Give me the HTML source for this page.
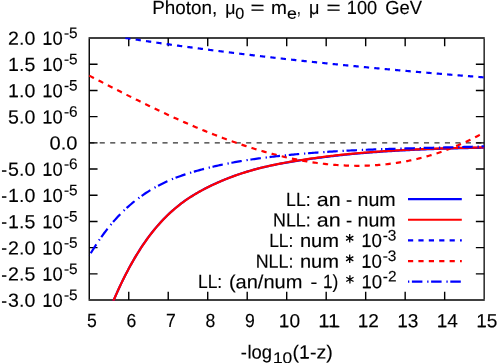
<!DOCTYPE html>
<html><head><meta charset="utf-8"><title>plot</title>
<style>html,body{margin:0;padding:0;background:#fff}body{width:498px;height:363px;overflow:hidden}</style></head>
<body>
<svg width="498" height="363" viewBox="0 0 498 363" style="display:block;will-change:transform" text-rendering="geometricPrecision" font-family='"Liberation Sans", sans-serif' font-size="19.0" fill="#000">
<rect width="498" height="363" fill="#fff"/>
<clipPath id="c"><rect x="88.65" y="37.43" width="396.09999999999997" height="263.23999999999995"/></clipPath>
<path d="M89.25,142.85H484.15" stroke="#303030" stroke-width="1.4" stroke-dasharray="5.1 5.36" fill="none"/>
<path d="M89.25,64.23h8.3 M484.15,64.23h-8.3 M128.74,300.07v-8.3 M128.74,38.03v8.3 M89.25,90.44h8.3 M484.15,90.44h-8.3 M168.23,300.07v-8.3 M168.23,38.03v8.3 M89.25,116.64h8.3 M484.15,116.64h-8.3 M207.72,300.07v-8.3 M207.72,38.03v8.3 M89.25,142.85h8.3 M484.15,142.85h-8.3 M247.21,300.07v-8.3 M247.21,38.03v8.3 M89.25,169.05h8.3 M484.15,169.05h-8.3 M286.70,300.07v-8.3 M286.70,38.03v8.3 M89.25,195.25h8.3 M484.15,195.25h-8.3 M326.19,300.07v-8.3 M326.19,38.03v8.3 M89.25,221.46h8.3 M484.15,221.46h-8.3 M365.68,300.07v-8.3 M365.68,38.03v8.3 M89.25,247.66h8.3 M484.15,247.66h-8.3 M405.17,300.07v-8.3 M405.17,38.03v8.3 M89.25,273.87h8.3 M484.15,273.87h-8.3 M444.66,300.07v-8.3 M444.66,38.03v8.3" stroke="#000" stroke-width="1.4" fill="none"/>
<g fill="none" stroke="#000"><path d="M88.55,38.03H484.78999999999996" stroke-width="1.4"/><path d="M484.15,38.730000000000004V299.295" stroke-width="1.28"/><path d="M88.55,300.07H484.78999999999996" stroke-width="1.55"/><path d="M89.25,38.730000000000004V299.295" stroke-width="1.4"/></g>
<g clip-path="url(#c)" fill="none" stroke-width="2.2" stroke-linejoin="round">
<path d="M112.30,303.51 L113.80,299.97 L115.30,296.50 L116.80,293.11 L118.30,289.79 L119.80,286.54 L121.30,283.37 L122.80,280.28 L124.30,277.25 L125.80,274.29 L127.30,271.40 L128.79,268.57 L130.29,265.81 L131.79,263.11 L133.29,260.48 L134.79,257.91 L136.28,255.40 L137.78,252.95 L139.28,250.55 L140.78,248.22 L142.28,245.94 L143.77,243.72 L145.27,241.56 L146.77,239.45 L148.27,237.39 L149.77,235.39 L151.26,233.43 L152.76,231.53 L154.26,229.67 L155.76,227.87 L157.26,226.11 L158.76,224.40 L160.26,222.74 L161.76,221.10 L163.26,219.51 L164.76,217.96 L166.26,216.46 L167.76,214.99 L169.26,213.56 L170.76,212.17 L172.26,210.82 L173.76,209.51 L175.26,208.23 L176.76,206.98 L178.26,205.77 L179.76,204.59 L181.26,203.44 L182.76,202.32 L184.26,201.23 L185.76,200.17 L187.26,199.14 L188.76,198.13 L190.26,197.15 L191.76,196.20 L193.26,195.26 L194.76,194.35 L196.26,193.46 L197.76,192.59 L199.26,191.74 L200.76,190.91 L202.26,190.10 L203.76,189.30 L205.26,188.52 L206.76,187.75 L208.26,187.00 L209.76,186.26 L211.26,185.53 L212.76,184.82 L214.26,184.12 L215.76,183.43 L217.26,182.75 L218.76,182.09 L220.26,181.43 L221.76,180.79 L223.26,180.17 L224.76,179.55 L226.26,178.94 L227.76,178.35 L229.26,177.77 L230.76,177.20 L232.26,176.64 L233.76,176.09 L235.26,175.55 L236.76,175.02 L238.26,174.50 L239.76,173.99 L241.26,173.49 L242.76,173.01 L244.26,172.53 L245.76,172.06 L247.26,171.60 L248.76,171.15 L250.26,170.71 L251.76,170.27 L253.26,169.85 L254.76,169.43 L256.26,169.03 L257.76,168.64 L259.26,168.26 L260.76,167.89 L262.26,167.52 L263.77,167.16 L265.27,166.81 L266.77,166.47 L268.27,166.13 L269.77,165.80 L271.27,165.48 L272.77,165.17 L274.27,164.86 L275.77,164.55 L277.27,164.26 L278.77,163.97 L280.27,163.68 L281.78,163.41 L283.28,163.13 L284.78,162.87 L286.28,162.60 L287.78,162.35 L289.28,162.10 L290.78,161.85 L292.28,161.61 L293.78,161.37 L295.28,161.14 L296.78,160.91 L298.28,160.68 L299.79,160.46 L301.29,160.24 L302.79,160.01 L304.29,159.79 L305.79,159.57 L307.29,159.36 L308.79,159.15 L310.29,158.94 L311.79,158.73 L313.29,158.53 L314.79,158.33 L316.30,158.13 L317.80,157.93 L319.30,157.74 L320.80,157.55 L322.30,157.36 L323.80,157.18 L325.30,156.99 L326.80,156.80 L328.30,156.62 L329.80,156.43 L331.30,156.25 L332.80,156.07 L334.30,155.89 L335.80,155.71 L337.30,155.54 L338.80,155.37 L340.30,155.20 L341.80,155.05 L343.30,154.89 L344.80,154.74 L346.30,154.59 L347.80,154.45 L349.30,154.30 L350.80,154.16 L352.30,154.02 L353.80,153.88 L355.30,153.75 L356.80,153.61 L358.30,153.48 L359.80,153.35 L361.30,153.22 L362.80,153.09 L364.30,152.97 L365.80,152.85 L367.30,152.73 L368.80,152.61 L370.30,152.49 L371.80,152.38 L373.30,152.26 L374.80,152.15 L376.30,152.04 L377.80,151.93 L379.30,151.83 L380.80,151.72 L382.30,151.62 L383.80,151.52 L385.30,151.42 L386.80,151.32 L388.30,151.23 L389.80,151.13 L391.30,151.04 L392.80,150.95 L394.30,150.86 L395.80,150.77 L397.30,150.69 L398.80,150.60 L400.30,150.52 L401.80,150.44 L403.30,150.36 L404.80,150.28 L406.30,150.20 L407.80,150.13 L409.30,150.05 L410.80,149.98 L412.30,149.91 L413.80,149.83 L415.30,149.77 L416.80,149.70 L418.30,149.63 L419.80,149.57 L421.30,149.50 L422.80,149.44 L424.30,149.38 L425.80,149.32 L427.30,149.26 L428.80,149.20 L430.30,149.14 L431.80,149.09 L433.30,149.03 L434.80,148.98 L436.30,148.93 L437.80,148.87 L439.30,148.82 L440.80,148.77 L442.30,148.73 L443.80,148.68 L445.30,148.63 L446.80,148.59 L448.30,148.54 L449.80,148.50 L451.30,148.46 L452.80,148.41 L454.30,148.37 L455.80,148.33 L457.30,148.29 L458.80,148.25 L460.30,148.22 L461.80,148.18 L463.30,148.14 L464.80,148.11 L466.30,148.07 L467.80,148.04 L469.30,148.00 L470.80,147.97 L472.30,147.94 L473.80,147.91 L475.30,147.88 L476.80,147.85 L478.30,147.82 L479.80,147.79 L481.30,147.76 L482.80,147.73 L484.15,147.70" stroke="#0000ff"/>
<path d="M112.30,303.51 L113.80,299.97 L115.30,296.50 L116.80,293.11 L118.30,289.79 L119.80,286.54 L121.30,283.37 L122.80,280.28 L124.30,277.25 L125.80,274.29 L127.30,271.40 L128.80,268.58 L130.30,265.82 L131.80,263.12 L133.30,260.49 L134.80,257.92 L136.30,255.42 L137.80,252.97 L139.30,250.58 L140.80,248.25 L142.30,245.97 L143.80,243.76 L145.30,241.59 L146.80,239.49 L148.30,237.43 L149.80,235.43 L151.30,233.48 L152.80,231.58 L154.30,229.72 L155.80,227.92 L157.30,226.16 L158.80,224.45 L160.30,222.79 L161.80,221.15 L163.30,219.56 L164.80,218.01 L166.30,216.51 L167.80,215.04 L169.30,213.61 L170.80,212.22 L172.30,210.87 L173.80,209.56 L175.30,208.28 L176.80,207.03 L178.30,205.82 L179.80,204.64 L181.30,203.49 L182.80,202.37 L184.30,201.28 L185.80,200.22 L187.30,199.19 L188.80,198.18 L190.30,197.20 L191.80,196.25 L193.30,195.31 L194.80,194.40 L196.30,193.51 L197.80,192.64 L199.30,191.79 L200.80,190.96 L202.30,190.15 L203.80,189.35 L205.30,188.57 L206.80,187.80 L208.30,187.05 L209.80,186.31 L211.30,185.58 L212.80,184.87 L214.30,184.17 L215.80,183.48 L217.30,182.80 L218.80,182.14 L220.30,181.48 L221.80,180.84 L223.30,180.22 L224.80,179.60 L226.30,178.99 L227.80,178.40 L229.30,177.82 L230.80,177.25 L232.30,176.69 L233.80,176.14 L235.30,175.60 L236.80,175.07 L238.30,174.55 L239.80,174.04 L241.30,173.54 L242.80,173.06 L244.30,172.58 L245.80,172.11 L247.30,171.65 L248.80,171.20 L250.30,170.76 L251.80,170.32 L253.30,169.90 L254.80,169.48 L256.30,169.08 L257.80,168.68 L259.30,168.29 L260.80,167.91 L262.30,167.53 L263.80,167.16 L265.30,166.80 L266.80,166.45 L268.30,166.11 L269.80,165.77 L271.30,165.44 L272.80,165.11 L274.30,164.80 L275.80,164.49 L277.30,164.18 L278.80,163.88 L280.30,163.59 L281.80,163.30 L283.30,163.02 L284.80,162.75 L286.30,162.47 L287.80,162.21 L289.30,161.95 L290.80,161.69 L292.30,161.44 L293.80,161.20 L295.30,160.96 L296.80,160.72 L298.30,160.49 L299.80,160.26 L301.30,160.02 L302.80,159.79 L304.30,159.56 L305.80,159.33 L307.30,159.11 L308.80,158.89 L310.30,158.67 L311.80,158.46 L313.30,158.25 L314.80,158.04 L316.30,157.83 L317.80,157.63 L319.30,157.42 L320.80,157.23 L322.30,157.03 L323.80,156.83 L325.30,156.64 L326.80,156.45 L328.30,156.27 L329.80,156.08 L331.30,155.90 L332.80,155.72 L334.30,155.54 L335.80,155.36 L337.30,155.19 L338.80,155.02 L340.30,154.85 L341.80,154.70 L343.30,154.54 L344.80,154.39 L346.30,154.24 L347.80,154.10 L349.30,153.95 L350.80,153.81 L352.30,153.67 L353.80,153.53 L355.30,153.40 L356.80,153.26 L358.30,153.13 L359.80,153.00 L361.30,152.87 L362.80,152.74 L364.30,152.62 L365.80,152.50 L367.30,152.38 L368.80,152.26 L370.30,152.14 L371.80,152.03 L373.30,151.91 L374.80,151.80 L376.30,151.69 L377.80,151.58 L379.30,151.48 L380.80,151.37 L382.30,151.27 L383.80,151.17 L385.30,151.07 L386.80,150.97 L388.30,150.88 L389.80,150.78 L391.30,150.69 L392.80,150.60 L394.30,150.51 L395.80,150.42 L397.30,150.34 L398.80,150.25 L400.30,150.17 L401.80,150.09 L403.30,150.01 L404.80,149.93 L406.30,149.85 L407.80,149.78 L409.30,149.70 L410.80,149.63 L412.30,149.56 L413.80,149.48 L415.30,149.42 L416.80,149.35 L418.30,149.28 L419.80,149.22 L421.30,149.15 L422.80,149.09 L424.30,149.03 L425.80,148.97 L427.30,148.91 L428.80,148.85 L430.30,148.79 L431.80,148.74 L433.30,148.68 L434.80,148.63 L436.30,148.58 L437.80,148.52 L439.30,148.47 L440.80,148.42 L442.30,148.38 L443.80,148.33 L445.30,148.28 L446.80,148.24 L448.30,148.19 L449.80,148.15 L451.30,148.11 L452.80,148.06 L454.30,148.02 L455.80,147.98 L457.30,147.94 L458.80,147.90 L460.30,147.87 L461.80,147.83 L463.30,147.79 L464.80,147.76 L466.30,147.72 L467.80,147.69 L469.30,147.65 L470.80,147.62 L472.30,147.59 L473.80,147.56 L475.30,147.53 L476.80,147.50 L478.30,147.47 L479.80,147.44 L481.30,147.41 L482.80,147.38 L484.15,147.35" stroke="#ff0000"/>
<path d="M125.30,37.95 L126.30,38.11 L127.30,38.26 L128.30,38.41 L129.30,38.57 L130.30,38.72 L131.30,38.87 L132.30,39.02 L133.30,39.18 L134.30,39.33 L135.30,39.48 L136.30,39.63 L137.30,39.78 L138.30,39.93 L139.30,40.08 L140.30,40.23 L141.30,40.38 L142.30,40.53 L143.30,40.68 L144.30,40.82 L145.30,40.97 L146.30,41.12 L147.30,41.27 L148.30,41.41 L149.30,41.56 L150.30,41.71 L151.30,41.85 L152.30,42.00 L153.30,42.15 L154.30,42.29 L155.30,42.44 L156.30,42.58 L157.30,42.72 L158.30,42.87 L159.30,43.01 L160.30,43.16 L161.30,43.30 L162.30,43.44 L163.30,43.58 L164.30,43.73 L165.30,43.87 L166.30,44.01 L167.30,44.15 L168.30,44.29 L169.30,44.43 L170.30,44.58 L171.30,44.72 L172.30,44.86 L173.30,45.00 L174.30,45.13 L175.30,45.27 L176.30,45.41 L177.30,45.55 L178.30,45.69 L179.30,45.83 L180.30,45.97 L181.30,46.10 L182.30,46.24 L183.30,46.38 L184.30,46.51 L185.30,46.65 L186.30,46.79 L187.30,46.92 L188.30,47.06 L189.30,47.19 L190.30,47.33 L191.30,47.46 L192.30,47.60 L193.30,47.73 L194.30,47.86 L195.30,48.00 L196.30,48.13 L197.30,48.26 L198.30,48.40 L199.30,48.53 L200.30,48.66 L201.30,48.79 L202.30,48.93 L203.30,49.06 L204.30,49.19 L205.30,49.32 L206.30,49.45 L207.30,49.58 L208.30,49.71 L209.30,49.84 L210.30,49.97 L211.30,50.10 L212.30,50.23 L213.30,50.36 L214.30,50.48 L215.30,50.61 L216.30,50.74 L217.30,50.87 L218.30,51.00 L219.30,51.12 L220.30,51.25 L221.30,51.38 L222.30,51.50 L223.30,51.63 L224.30,51.75 L225.30,51.88 L226.30,52.01 L227.30,52.13 L228.30,52.26 L229.30,52.38 L230.30,52.50 L231.30,52.63 L232.30,52.75 L233.30,52.88 L234.30,53.00 L235.30,53.12 L236.30,53.24 L237.30,53.37 L238.30,53.49 L239.30,53.61 L240.30,53.73 L241.30,53.85 L242.30,53.98 L243.30,54.10 L244.30,54.22 L245.30,54.34 L246.30,54.46 L247.30,54.58 L248.30,54.70 L249.30,54.82 L250.30,54.94 L251.30,55.06 L252.30,55.18 L253.30,55.29 L254.30,55.41 L255.30,55.53 L256.30,55.65 L257.30,55.77 L258.30,55.88 L259.30,56.00 L260.30,56.12 L261.30,56.23 L262.30,56.35 L263.30,56.47 L264.30,56.58 L265.30,56.70 L266.30,56.81 L267.30,56.93 L268.30,57.04 L269.30,57.16 L270.30,57.27 L271.30,57.39 L272.30,57.50 L273.30,57.62 L274.30,57.73 L275.30,57.84 L276.30,57.96 L277.30,58.07 L278.30,58.18 L279.30,58.29 L280.30,58.41 L281.30,58.52 L282.30,58.63 L283.30,58.74 L284.30,58.85 L285.30,58.97 L286.30,59.08 L287.30,59.19 L288.30,59.30 L289.30,59.41 L290.30,59.52 L291.30,59.63 L292.30,59.74 L293.30,59.85 L294.30,59.96 L295.30,60.06 L296.30,60.17 L297.30,60.28 L298.30,60.39 L299.30,60.50 L300.30,60.61 L301.30,60.71 L302.30,60.82 L303.30,60.93 L304.30,61.04 L305.30,61.14 L306.30,61.25 L307.30,61.36 L308.30,61.46 L309.30,61.57 L310.30,61.67 L311.30,61.78 L312.30,61.88 L313.30,61.99 L314.30,62.09 L315.30,62.20 L316.30,62.30 L317.30,62.41 L318.30,62.51 L319.30,62.62 L320.30,62.72 L321.30,62.82 L322.30,62.93 L323.30,63.03 L324.30,63.13 L325.30,63.23 L326.30,63.34 L327.30,63.44 L328.30,63.54 L329.30,63.64 L330.30,63.75 L331.30,63.85 L332.30,63.95 L333.30,64.05 L334.30,64.15 L335.30,64.25 L336.30,64.35 L337.30,64.45 L338.30,64.55 L339.30,64.65 L340.30,64.75 L341.30,64.85 L342.30,64.95 L343.30,65.05 L344.30,65.15 L345.30,65.25 L346.30,65.35 L347.30,65.44 L348.30,65.54 L349.30,65.64 L350.30,65.74 L351.30,65.84 L352.30,65.93 L353.30,66.03 L354.30,66.13 L355.30,66.22 L356.30,66.32 L357.30,66.42 L358.30,66.51 L359.30,66.61 L360.30,66.71 L361.30,66.80 L362.30,66.90 L363.30,66.99 L364.30,67.09 L365.30,67.18 L366.30,67.28 L367.30,67.37 L368.30,67.47 L369.30,67.56 L370.30,67.66 L371.30,67.75 L372.30,67.84 L373.30,67.94 L374.30,68.03 L375.30,68.12 L376.30,68.22 L377.30,68.31 L378.30,68.40 L379.30,68.50 L380.30,68.59 L381.30,68.68 L382.30,68.77 L383.30,68.87 L384.30,68.96 L385.30,69.05 L386.30,69.14 L387.30,69.23 L388.30,69.32 L389.30,69.41 L390.30,69.50 L391.30,69.60 L392.30,69.69 L393.30,69.78 L394.30,69.87 L395.30,69.96 L396.30,70.05 L397.30,70.14 L398.30,70.23 L399.30,70.31 L400.30,70.40 L401.30,70.49 L402.30,70.58 L403.30,70.67 L404.30,70.76 L405.30,70.85 L406.30,70.94 L407.30,71.02 L408.30,71.11 L409.30,71.20 L410.30,71.29 L411.30,71.37 L412.30,71.46 L413.30,71.55 L414.30,71.64 L415.30,71.72 L416.30,71.81 L417.30,71.90 L418.30,71.98 L419.30,72.07 L420.30,72.16 L421.30,72.24 L422.30,72.33 L423.30,72.41 L424.30,72.50 L425.30,72.58 L426.30,72.67 L427.30,72.75 L428.30,72.84 L429.30,72.92 L430.30,73.01 L431.30,73.09 L432.30,73.18 L433.30,73.26 L434.30,73.35 L435.30,73.43 L436.30,73.51 L437.30,73.60 L438.30,73.68 L439.30,73.76 L440.30,73.85 L441.30,73.93 L442.30,74.01 L443.30,74.10 L444.30,74.18 L445.30,74.26 L446.30,74.34 L447.30,74.43 L448.30,74.51 L449.30,74.59 L450.30,74.67 L451.30,74.76 L452.30,74.84 L453.30,74.92 L454.30,75.00 L455.30,75.08 L456.30,75.16 L457.30,75.24 L458.30,75.32 L459.30,75.41 L460.30,75.49 L461.30,75.57 L462.30,75.65 L463.30,75.73 L464.30,75.81 L465.30,75.89 L466.30,75.97 L467.30,76.05 L468.30,76.13 L469.30,76.21 L470.30,76.29 L471.30,76.37 L472.30,76.45 L473.30,76.52 L474.30,76.60 L475.30,76.68 L476.30,76.76 L477.30,76.84 L478.30,76.92 L479.30,77.00 L480.30,77.07 L481.30,77.15 L482.30,77.23 L483.30,77.31 L484.15,77.38" stroke="#0000ff" stroke-dasharray="5.3 5.15"/>
<path d="M89.25,75.61 L90.75,76.39 L92.25,77.17 L93.75,77.95 L95.25,78.73 L96.75,79.51 L98.25,80.29 L99.75,81.06 L101.25,81.84 L102.75,82.62 L104.25,83.39 L105.75,84.16 L107.25,84.94 L108.75,85.71 L110.25,86.48 L111.75,87.25 L113.25,88.02 L114.75,88.78 L116.25,89.55 L117.75,90.31 L119.25,91.07 L120.75,91.84 L122.25,92.60 L123.75,93.35 L125.25,94.11 L126.75,94.87 L128.25,95.62 L129.75,96.37 L131.25,97.12 L132.75,97.87 L134.25,98.62 L135.75,99.36 L137.25,100.10 L138.75,100.84 L140.25,101.58 L141.75,102.32 L143.25,103.05 L144.75,103.79 L146.25,104.52 L147.75,105.25 L149.25,105.97 L150.75,106.70 L152.25,107.42 L153.75,108.14 L155.25,108.85 L156.75,109.57 L158.25,110.28 L159.75,110.99 L161.25,111.70 L162.75,112.40 L164.25,113.10 L165.75,113.80 L167.25,114.50 L168.75,115.19 L170.25,115.88 L171.75,116.57 L173.25,117.25 L174.75,117.93 L176.25,118.61 L177.75,119.29 L179.25,119.96 L180.75,120.63 L182.25,121.30 L183.75,121.96 L185.25,122.62 L186.75,123.28 L188.25,123.93 L189.75,124.58 L191.25,125.23 L192.75,125.87 L194.25,126.51 L195.75,127.15 L197.25,127.78 L198.75,128.41 L200.25,129.03 L201.75,129.65 L203.25,130.27 L204.75,130.88 L206.25,131.49 L207.75,132.10 L209.25,132.70 L210.75,133.30 L212.25,133.89 L213.75,134.48 L215.25,135.07 L216.75,135.65 L218.25,136.23 L219.75,136.80 L221.25,137.37 L222.75,137.94 L224.25,138.50 L225.75,139.05 L227.25,139.61 L228.75,140.15 L230.25,140.70 L231.75,141.23 L233.25,141.77 L234.75,142.30 L236.25,142.82 L237.75,143.34 L239.25,143.85 L240.75,144.36 L242.25,144.87 L243.75,145.37 L245.25,145.86 L246.75,146.35 L248.25,146.84 L249.75,147.32 L251.25,147.79 L252.75,148.26 L254.25,148.73 L255.75,149.19 L257.25,149.64 L258.75,150.09 L260.25,150.53 L261.75,150.97 L263.25,151.40 L264.75,151.83 L266.25,152.25 L267.75,152.67 L269.25,153.08 L270.75,153.48 L272.25,153.88 L273.75,154.27 L275.25,154.66 L276.75,155.04 L278.25,155.42 L279.75,155.79 L281.25,156.15 L282.75,156.51 L284.25,156.86 L285.75,157.21 L287.25,157.55 L288.75,157.88 L290.25,158.21 L291.75,158.53 L293.25,158.84 L294.75,159.15 L296.25,159.45 L297.75,159.74 L299.25,160.03 L300.75,160.32 L302.25,160.59 L303.75,160.86 L305.25,161.12 L306.75,161.38 L308.25,161.63 L309.75,161.87 L311.25,162.10 L312.75,162.33 L314.25,162.55 L315.75,162.77 L317.25,162.98 L318.75,163.18 L320.25,163.37 L321.75,163.56 L323.25,163.74 L324.75,163.91 L326.25,164.07 L327.75,164.23 L329.25,164.38 L330.75,164.52 L332.25,164.66 L333.75,164.79 L335.25,164.91 L336.75,165.02 L338.25,165.13 L339.75,165.22 L341.25,165.32 L342.75,165.40 L344.25,165.47 L345.75,165.54 L347.25,165.60 L348.75,165.65 L350.25,165.69 L351.75,165.73 L353.25,165.75 L354.75,165.77 L356.25,165.79 L357.75,165.79 L359.25,165.78 L360.75,165.77 L362.25,165.75 L363.75,165.72 L365.25,165.68 L366.75,165.63 L368.25,165.58 L369.75,165.51 L371.25,165.44 L372.75,165.36 L374.25,165.27 L375.75,165.17 L377.25,165.07 L378.75,164.95 L380.25,164.83 L381.75,164.70 L383.25,164.55 L384.75,164.40 L386.25,164.24 L387.75,164.07 L389.25,163.90 L390.75,163.71 L392.25,163.51 L393.75,163.31 L395.25,163.10 L396.75,162.87 L398.25,162.64 L399.75,162.40 L401.25,162.15 L402.75,161.89 L404.25,161.62 L405.75,161.34 L407.25,161.05 L408.75,160.75 L410.25,160.44 L411.75,160.12 L413.25,159.79 L414.75,159.46 L416.25,159.11 L417.75,158.75 L419.25,158.38 L420.75,158.01 L422.25,157.62 L423.75,157.22 L425.25,156.82 L426.75,156.40 L428.25,155.97 L429.75,155.54 L431.25,155.09 L432.75,154.63 L434.25,154.16 L435.75,153.68 L437.25,153.19 L438.75,152.70 L440.25,152.19 L441.75,151.67 L443.25,151.13 L444.75,150.59 L446.25,150.04 L447.75,149.48 L449.25,148.91 L450.75,148.32 L452.25,147.73 L453.75,147.12 L455.25,146.50 L456.75,145.88 L458.25,145.24 L459.75,144.59 L461.25,143.93 L462.75,143.25 L464.25,142.57 L465.75,141.88 L467.25,141.17 L468.75,140.46 L470.25,139.73 L471.75,138.99 L473.25,138.24 L474.75,137.48 L476.25,136.70 L477.75,135.92 L479.25,135.12 L480.75,134.31 L482.25,133.49 L483.75,132.66 L484.15,132.44" stroke="#ff0000" stroke-dasharray="5.3 5.16"/>
<path d="M89.25,255.70 L90.75,253.19 L92.25,250.73 L93.75,248.33 L95.25,245.98 L96.75,243.69 L98.25,241.45 L99.75,239.27 L101.25,237.14 L102.75,235.05 L104.25,233.02 L105.75,231.04 L107.25,229.10 L108.75,227.21 L110.25,225.37 L111.75,223.58 L113.25,221.82 L114.75,220.12 L116.25,218.45 L117.75,216.83 L119.25,215.25 L120.75,213.71 L122.25,212.20 L123.75,210.74 L125.25,209.31 L126.75,207.92 L128.25,206.57 L129.75,205.25 L131.25,203.96 L132.75,202.71 L134.25,201.49 L135.75,200.30 L137.25,199.14 L138.75,198.00 L140.25,196.90 L141.75,195.83 L143.25,194.78 L144.75,193.76 L146.25,192.77 L147.75,191.80 L149.25,190.86 L150.75,189.94 L152.25,189.04 L153.75,188.17 L155.25,187.33 L156.75,186.50 L158.25,185.70 L159.75,184.92 L161.25,184.16 L162.75,183.42 L164.25,182.70 L165.75,182.00 L167.25,181.31 L168.75,180.65 L170.25,180.00 L171.75,179.37 L173.25,178.76 L174.75,178.16 L176.25,177.58 L177.75,177.01 L179.25,176.46 L180.75,175.92 L182.25,175.39 L183.75,174.88 L185.25,174.38 L186.75,173.89 L188.25,173.41 L189.75,172.94 L191.25,172.48 L192.75,172.04 L194.25,171.60 L195.75,171.16 L197.25,170.74 L198.75,170.32 L200.25,169.91 L201.75,169.51 L203.25,169.11 L204.75,168.72 L206.25,168.34 L207.75,167.96 L209.25,167.59 L210.75,167.23 L212.25,166.87 L213.75,166.52 L215.25,166.17 L216.75,165.83 L218.25,165.50 L219.75,165.17 L221.25,164.85 L222.75,164.53 L224.25,164.22 L225.75,163.91 L227.25,163.61 L228.75,163.32 L230.25,163.03 L231.75,162.75 L233.25,162.47 L234.75,162.20 L236.25,161.93 L237.75,161.66 L239.25,161.41 L240.75,161.15 L242.25,160.90 L243.75,160.66 L245.25,160.42 L246.75,160.18 L248.25,159.95 L249.75,159.72 L251.25,159.50 L252.75,159.28 L254.25,159.07 L255.75,158.86 L257.25,158.65 L258.75,158.44 L260.25,158.24 L261.75,158.05 L263.25,157.85 L264.75,157.66 L266.25,157.48 L267.75,157.29 L269.25,157.11 L270.75,156.93 L272.25,156.76 L273.75,156.58 L275.25,156.41 L276.75,156.24 L278.25,156.08 L279.75,155.92 L281.25,155.76 L282.75,155.60 L284.25,155.44 L285.75,155.29 L287.25,155.13 L288.75,154.99 L290.25,154.84 L291.75,154.69 L293.25,154.55 L294.75,154.41 L296.25,154.27 L297.75,154.14 L299.25,154.00 L300.75,153.87 L302.25,153.74 L303.75,153.61 L305.25,153.48 L306.75,153.36 L308.25,153.24 L309.75,153.12 L311.25,153.00 L312.75,152.88 L314.25,152.77 L315.75,152.66 L317.25,152.55 L318.75,152.44 L320.25,152.33 L321.75,152.22 L323.25,152.12 L324.75,152.02 L326.25,151.92 L327.75,151.82 L329.25,151.72 L330.75,151.63 L332.25,151.53 L333.75,151.44 L335.25,151.35 L336.75,151.26 L338.25,151.17 L339.75,151.09 L341.25,151.00 L342.75,150.92 L344.25,150.84 L345.75,150.76 L347.25,150.68 L348.75,150.60 L350.25,150.52 L351.75,150.45 L353.25,150.38 L354.75,150.30 L356.25,150.23 L357.75,150.16 L359.25,150.09 L360.75,150.03 L362.25,149.96 L363.75,149.90 L365.25,149.83 L366.75,149.77 L368.25,149.71 L369.75,149.65 L371.25,149.59 L372.75,149.53 L374.25,149.47 L375.75,149.41 L377.25,149.36 L378.75,149.30 L380.25,149.25 L381.75,149.19 L383.25,149.14 L384.75,149.09 L386.25,149.04 L387.75,148.99 L389.25,148.94 L390.75,148.89 L392.25,148.84 L393.75,148.80 L395.25,148.75 L396.75,148.70 L398.25,148.66 L399.75,148.61 L401.25,148.57 L402.75,148.53 L404.25,148.48 L405.75,148.44 L407.25,148.40 L408.75,148.36 L410.25,148.32 L411.75,148.28 L413.25,148.24 L414.75,148.20 L416.25,148.16 L417.75,148.12 L419.25,148.08 L420.75,148.04 L422.25,148.00 L423.75,147.97 L425.25,147.93 L426.75,147.89 L428.25,147.85 L429.75,147.82 L431.25,147.78 L432.75,147.74 L434.25,147.71 L435.75,147.67 L437.25,147.63 L438.75,147.60 L440.25,147.56 L441.75,147.52 L443.25,147.49 L444.75,147.45 L446.25,147.41 L447.75,147.38 L449.25,147.34 L450.75,147.30 L452.25,147.26 L453.75,147.23 L455.25,147.19 L456.75,147.15 L458.25,147.11 L459.75,147.07 L461.25,147.04 L462.75,147.00 L464.25,146.96 L465.75,146.92 L467.25,146.88 L468.75,146.84 L470.25,146.80 L471.75,146.75 L473.25,146.71 L474.75,146.67 L476.25,146.63 L477.75,146.58 L479.25,146.54 L480.75,146.49 L482.25,146.45 L483.75,146.40 L484.15,146.39" stroke="#0000ff" stroke-dasharray="10.5 4.8 1.3 2.7" stroke-dashoffset="16.45"/>
</g>
<text x="152.20" y="13.90" transform="rotate(0.03 152.20 13.90)" font-size="19.0" stroke="#000" stroke-width="0.14" textLength="65.00" lengthAdjust="spacingAndGlyphs">Photon,</text>
<text x="225.30" y="13.90" transform="rotate(0.03 225.30 13.90)" font-size="19.0" stroke="#000" stroke-width="0.14" textLength="10.20" lengthAdjust="spacingAndGlyphs">μ</text>
<text x="235.30" y="18.80" transform="rotate(0.03 235.30 18.80)" font-size="15.8" stroke="#000" stroke-width="0.14" textLength="9.00" lengthAdjust="spacingAndGlyphs">0</text>
<text x="250.60" y="13.90" transform="rotate(0.03 250.60 13.90)" font-size="19.0" stroke="#000" stroke-width="0.14" textLength="14.10" lengthAdjust="spacingAndGlyphs">=</text>
<text x="271.00" y="13.90" transform="rotate(0.03 271.00 13.90)" font-size="19.0" stroke="#000" stroke-width="0.14" textLength="15.90" lengthAdjust="spacingAndGlyphs">m</text>
<text x="287.10" y="18.80" transform="rotate(0.03 287.10 18.80)" font-size="15.8" stroke="#000" stroke-width="0.14" textLength="9.90" lengthAdjust="spacingAndGlyphs">e</text>
<text x="297.00" y="13.90" transform="rotate(0.03 297.00 13.90)" font-size="19.0" stroke="#000" stroke-width="0.14" textLength="3.70" lengthAdjust="spacingAndGlyphs">,</text>
<text x="308.90" y="13.90" transform="rotate(0.03 308.90 13.90)" font-size="19.0" stroke="#000" stroke-width="0.14" textLength="10.40" lengthAdjust="spacingAndGlyphs">μ</text>
<text x="326.50" y="13.90" transform="rotate(0.03 326.50 13.90)" font-size="19.0" stroke="#000" stroke-width="0.14" textLength="14.20" lengthAdjust="spacingAndGlyphs">=</text>
<text x="346.80" y="13.90" transform="rotate(0.03 346.80 13.90)" font-size="19.0" stroke="#000" stroke-width="0.14" textLength="30.30" lengthAdjust="spacingAndGlyphs">100</text><rect x="348.62" y="12.55" width="6.81" height="1.35" fill="#000"/>
<text x="385.30" y="13.90" transform="rotate(0.03 385.30 13.90)" font-size="19.0" stroke="#000" stroke-width="0.14" textLength="36.80" lengthAdjust="spacingAndGlyphs">GeV</text>
<text x="8.10" y="44.78" transform="rotate(0.03 8.10 44.78)" font-size="19.0" stroke="#000" stroke-width="0.14" textLength="27.20" lengthAdjust="spacingAndGlyphs">2.0</text>
<text x="42.30" y="44.78" transform="rotate(0.03 42.30 44.78)" font-size="19.0" stroke="#000" stroke-width="0.14" textLength="20.50" lengthAdjust="spacingAndGlyphs">10</text><rect x="44.14" y="43.43" width="6.91" height="1.35" fill="#000"/>
<text x="63.90" y="38.08" transform="rotate(0.03 63.90 38.08)" font-size="15.2" stroke="#000" stroke-width="0.14" textLength="13.70" lengthAdjust="spacingAndGlyphs">-5</text>
<text x="8.10" y="70.98" transform="rotate(0.03 8.10 70.98)" font-size="19.0" stroke="#000" stroke-width="0.14" textLength="27.20" lengthAdjust="spacingAndGlyphs">1.5</text><rect x="10.06" y="69.63" width="7.34" height="1.35" fill="#000"/>
<text x="42.30" y="70.98" transform="rotate(0.03 42.30 70.98)" font-size="19.0" stroke="#000" stroke-width="0.14" textLength="20.50" lengthAdjust="spacingAndGlyphs">10</text><rect x="44.14" y="69.63" width="6.91" height="1.35" fill="#000"/>
<text x="63.90" y="64.28" transform="rotate(0.03 63.90 64.28)" font-size="15.2" stroke="#000" stroke-width="0.14" textLength="13.70" lengthAdjust="spacingAndGlyphs">-5</text>
<text x="8.10" y="97.19" transform="rotate(0.03 8.10 97.19)" font-size="19.0" stroke="#000" stroke-width="0.14" textLength="27.20" lengthAdjust="spacingAndGlyphs">1.0</text><rect x="10.06" y="95.84" width="7.34" height="1.35" fill="#000"/>
<text x="42.30" y="97.19" transform="rotate(0.03 42.30 97.19)" font-size="19.0" stroke="#000" stroke-width="0.14" textLength="20.50" lengthAdjust="spacingAndGlyphs">10</text><rect x="44.14" y="95.84" width="6.91" height="1.35" fill="#000"/>
<text x="63.90" y="90.49" transform="rotate(0.03 63.90 90.49)" font-size="15.2" stroke="#000" stroke-width="0.14" textLength="13.70" lengthAdjust="spacingAndGlyphs">-5</text>
<text x="8.10" y="123.39" transform="rotate(0.03 8.10 123.39)" font-size="19.0" stroke="#000" stroke-width="0.14" textLength="27.20" lengthAdjust="spacingAndGlyphs">5.0</text>
<text x="42.30" y="123.39" transform="rotate(0.03 42.30 123.39)" font-size="19.0" stroke="#000" stroke-width="0.14" textLength="20.50" lengthAdjust="spacingAndGlyphs">10</text><rect x="44.14" y="122.04" width="6.91" height="1.35" fill="#000"/>
<text x="63.90" y="116.69" transform="rotate(0.03 63.90 116.69)" font-size="15.2" stroke="#000" stroke-width="0.14" textLength="13.70" lengthAdjust="spacingAndGlyphs">-6</text>
<text x="49.50" y="149.60" transform="rotate(0.03 49.50 149.60)" font-size="19.0" stroke="#000" stroke-width="0.14" textLength="27.90" lengthAdjust="spacingAndGlyphs">0.0</text>
<text x="1.30" y="175.80" transform="rotate(0.03 1.30 175.80)" font-size="19.0" stroke="#000" stroke-width="0.14" textLength="5.80" lengthAdjust="spacingAndGlyphs">-</text>
<text x="8.10" y="175.80" transform="rotate(0.03 8.10 175.80)" font-size="19.0" stroke="#000" stroke-width="0.14" textLength="27.20" lengthAdjust="spacingAndGlyphs">5.0</text>
<text x="42.30" y="175.80" transform="rotate(0.03 42.30 175.80)" font-size="19.0" stroke="#000" stroke-width="0.14" textLength="20.50" lengthAdjust="spacingAndGlyphs">10</text><rect x="44.14" y="174.45" width="6.91" height="1.35" fill="#000"/>
<text x="63.90" y="169.10" transform="rotate(0.03 63.90 169.10)" font-size="15.2" stroke="#000" stroke-width="0.14" textLength="13.70" lengthAdjust="spacingAndGlyphs">-6</text>
<text x="1.30" y="202.00" transform="rotate(0.03 1.30 202.00)" font-size="19.0" stroke="#000" stroke-width="0.14" textLength="5.80" lengthAdjust="spacingAndGlyphs">-</text>
<text x="8.10" y="202.00" transform="rotate(0.03 8.10 202.00)" font-size="19.0" stroke="#000" stroke-width="0.14" textLength="27.20" lengthAdjust="spacingAndGlyphs">1.0</text><rect x="10.06" y="200.65" width="7.34" height="1.35" fill="#000"/>
<text x="42.30" y="202.00" transform="rotate(0.03 42.30 202.00)" font-size="19.0" stroke="#000" stroke-width="0.14" textLength="20.50" lengthAdjust="spacingAndGlyphs">10</text><rect x="44.14" y="200.65" width="6.91" height="1.35" fill="#000"/>
<text x="63.90" y="195.30" transform="rotate(0.03 63.90 195.30)" font-size="15.2" stroke="#000" stroke-width="0.14" textLength="13.70" lengthAdjust="spacingAndGlyphs">-5</text>
<text x="1.30" y="228.21" transform="rotate(0.03 1.30 228.21)" font-size="19.0" stroke="#000" stroke-width="0.14" textLength="5.80" lengthAdjust="spacingAndGlyphs">-</text>
<text x="8.10" y="228.21" transform="rotate(0.03 8.10 228.21)" font-size="19.0" stroke="#000" stroke-width="0.14" textLength="27.20" lengthAdjust="spacingAndGlyphs">1.5</text><rect x="10.06" y="226.86" width="7.34" height="1.35" fill="#000"/>
<text x="42.30" y="228.21" transform="rotate(0.03 42.30 228.21)" font-size="19.0" stroke="#000" stroke-width="0.14" textLength="20.50" lengthAdjust="spacingAndGlyphs">10</text><rect x="44.14" y="226.86" width="6.91" height="1.35" fill="#000"/>
<text x="63.90" y="221.51" transform="rotate(0.03 63.90 221.51)" font-size="15.2" stroke="#000" stroke-width="0.14" textLength="13.70" lengthAdjust="spacingAndGlyphs">-5</text>
<text x="1.30" y="254.41" transform="rotate(0.03 1.30 254.41)" font-size="19.0" stroke="#000" stroke-width="0.14" textLength="5.80" lengthAdjust="spacingAndGlyphs">-</text>
<text x="8.10" y="254.41" transform="rotate(0.03 8.10 254.41)" font-size="19.0" stroke="#000" stroke-width="0.14" textLength="27.20" lengthAdjust="spacingAndGlyphs">2.0</text>
<text x="42.30" y="254.41" transform="rotate(0.03 42.30 254.41)" font-size="19.0" stroke="#000" stroke-width="0.14" textLength="20.50" lengthAdjust="spacingAndGlyphs">10</text><rect x="44.14" y="253.06" width="6.91" height="1.35" fill="#000"/>
<text x="63.90" y="247.71" transform="rotate(0.03 63.90 247.71)" font-size="15.2" stroke="#000" stroke-width="0.14" textLength="13.70" lengthAdjust="spacingAndGlyphs">-5</text>
<text x="1.30" y="280.62" transform="rotate(0.03 1.30 280.62)" font-size="19.0" stroke="#000" stroke-width="0.14" textLength="5.80" lengthAdjust="spacingAndGlyphs">-</text>
<text x="8.10" y="280.62" transform="rotate(0.03 8.10 280.62)" font-size="19.0" stroke="#000" stroke-width="0.14" textLength="27.20" lengthAdjust="spacingAndGlyphs">2.5</text>
<text x="42.30" y="280.62" transform="rotate(0.03 42.30 280.62)" font-size="19.0" stroke="#000" stroke-width="0.14" textLength="20.50" lengthAdjust="spacingAndGlyphs">10</text><rect x="44.14" y="279.27" width="6.91" height="1.35" fill="#000"/>
<text x="63.90" y="273.92" transform="rotate(0.03 63.90 273.92)" font-size="15.2" stroke="#000" stroke-width="0.14" textLength="13.70" lengthAdjust="spacingAndGlyphs">-5</text>
<text x="1.30" y="306.82" transform="rotate(0.03 1.30 306.82)" font-size="19.0" stroke="#000" stroke-width="0.14" textLength="5.80" lengthAdjust="spacingAndGlyphs">-</text>
<text x="8.10" y="306.82" transform="rotate(0.03 8.10 306.82)" font-size="19.0" stroke="#000" stroke-width="0.14" textLength="27.20" lengthAdjust="spacingAndGlyphs">3.0</text>
<text x="42.30" y="306.82" transform="rotate(0.03 42.30 306.82)" font-size="19.0" stroke="#000" stroke-width="0.14" textLength="20.50" lengthAdjust="spacingAndGlyphs">10</text><rect x="44.14" y="305.47" width="6.91" height="1.35" fill="#000"/>
<text x="63.90" y="300.12" transform="rotate(0.03 63.90 300.12)" font-size="15.2" stroke="#000" stroke-width="0.14" textLength="13.70" lengthAdjust="spacingAndGlyphs">-5</text>
<text x="87.05" y="327.30" transform="rotate(0.03 87.05 327.30)" font-size="19.0" stroke="#000" stroke-width="0.14" textLength="9.80" lengthAdjust="spacingAndGlyphs">5</text>
<text x="126.54" y="327.30" transform="rotate(0.03 126.54 327.30)" font-size="19.0" stroke="#000" stroke-width="0.14" textLength="9.80" lengthAdjust="spacingAndGlyphs">6</text>
<text x="166.03" y="327.30" transform="rotate(0.03 166.03 327.30)" font-size="19.0" stroke="#000" stroke-width="0.14" textLength="9.80" lengthAdjust="spacingAndGlyphs">7</text>
<text x="205.52" y="327.30" transform="rotate(0.03 205.52 327.30)" font-size="19.0" stroke="#000" stroke-width="0.14" textLength="9.80" lengthAdjust="spacingAndGlyphs">8</text>
<text x="245.01" y="327.30" transform="rotate(0.03 245.01 327.30)" font-size="19.0" stroke="#000" stroke-width="0.14" textLength="9.80" lengthAdjust="spacingAndGlyphs">9</text>
<text x="278.80" y="327.30" transform="rotate(0.03 278.80 327.30)" font-size="19.0" stroke="#000" stroke-width="0.14" textLength="21.20" lengthAdjust="spacingAndGlyphs">10</text><rect x="280.71" y="325.95" width="7.15" height="1.35" fill="#000"/>
<text x="318.29" y="327.30" transform="rotate(0.03 318.29 327.30)" font-size="19.0" stroke="#000" stroke-width="0.14" textLength="21.20" lengthAdjust="spacingAndGlyphs">11</text><rect x="320.33" y="325.95" width="7.66" height="1.35" fill="#000"/><rect x="331.69" y="325.95" width="7.66" height="1.35" fill="#000"/>
<text x="357.78" y="327.30" transform="rotate(0.03 357.78 327.30)" font-size="19.0" stroke="#000" stroke-width="0.14" textLength="21.20" lengthAdjust="spacingAndGlyphs">12</text><rect x="359.69" y="325.95" width="7.15" height="1.35" fill="#000"/>
<text x="397.27" y="327.30" transform="rotate(0.03 397.27 327.30)" font-size="19.0" stroke="#000" stroke-width="0.14" textLength="21.20" lengthAdjust="spacingAndGlyphs">13</text><rect x="399.18" y="325.95" width="7.15" height="1.35" fill="#000"/>
<text x="436.76" y="327.30" transform="rotate(0.03 436.76 327.30)" font-size="19.0" stroke="#000" stroke-width="0.14" textLength="21.20" lengthAdjust="spacingAndGlyphs">14</text><rect x="438.67" y="325.95" width="7.15" height="1.35" fill="#000"/>
<text x="476.25" y="327.30" transform="rotate(0.03 476.25 327.30)" font-size="19.0" stroke="#000" stroke-width="0.14" textLength="21.20" lengthAdjust="spacingAndGlyphs">15</text><rect x="478.16" y="325.95" width="7.15" height="1.35" fill="#000"/>
<text x="240.80" y="358.60" transform="rotate(0.03 240.80 358.60)" font-size="19.0" stroke="#000" stroke-width="0.14" textLength="6.10" lengthAdjust="spacingAndGlyphs">-</text>
<text x="247.40" y="358.60" transform="rotate(0.03 247.40 358.60)" font-size="19.0" stroke="#000" stroke-width="0.14" textLength="24.60" lengthAdjust="spacingAndGlyphs">log</text>
<text x="272.90" y="363.20" transform="rotate(0.03 272.90 363.20)" font-size="15.8" stroke="#000" stroke-width="0.14" textLength="19.40" lengthAdjust="spacingAndGlyphs">10</text><rect x="274.64" y="362.05" width="6.54" height="1.15" fill="#000"/>
<text x="292.50" y="358.60" transform="rotate(0.03 292.50 358.60)" font-size="19.0" stroke="#000" stroke-width="0.14" textLength="40.20" lengthAdjust="spacingAndGlyphs">(1-z)</text><rect x="300.97" y="357.25" width="7.33" height="1.35" fill="#000"/>
<g fill="none" stroke-width="2.2">
<path d="M408,199.10H461.8" stroke="#0000ff"/>
<path d="M408,219.75H461.8" stroke="#ff0000"/>
<path d="M408,240.40H461.8" stroke="#0000ff" stroke-dasharray="5.2 5.2"/>
<path d="M408,261.05H461.8" stroke="#ff0000" stroke-dasharray="5.2 5.2"/>
<path d="M408,281.70H461.8" stroke="#0000ff" stroke-dasharray="1.3 2.6 10.5 4.8"/>
</g>
<text x="286.10" y="206.00" transform="rotate(0.03 286.10 206.00)" font-size="19.0" stroke="#000" stroke-width="0.14" textLength="24.60" lengthAdjust="spacingAndGlyphs">LL:</text>
<text x="316.80" y="206.00" transform="rotate(0.03 316.80 206.00)" font-size="19.0" stroke="#000" stroke-width="0.14" textLength="23.90" lengthAdjust="spacingAndGlyphs">an</text>
<text x="346.00" y="206.00" transform="rotate(0.03 346.00 206.00)" font-size="19.0" stroke="#000" stroke-width="0.14" textLength="6.20" lengthAdjust="spacingAndGlyphs">-</text>
<text x="357.50" y="206.00" transform="rotate(0.03 357.50 206.00)" font-size="19.0" stroke="#000" stroke-width="0.14" textLength="38.20" lengthAdjust="spacingAndGlyphs">num</text>
<text x="273.00" y="226.56" transform="rotate(0.03 273.00 226.56)" font-size="19.0" stroke="#000" stroke-width="0.14" textLength="37.70" lengthAdjust="spacingAndGlyphs">NLL:</text>
<text x="316.80" y="226.56" transform="rotate(0.03 316.80 226.56)" font-size="19.0" stroke="#000" stroke-width="0.14" textLength="23.90" lengthAdjust="spacingAndGlyphs">an</text>
<text x="346.00" y="226.56" transform="rotate(0.03 346.00 226.56)" font-size="19.0" stroke="#000" stroke-width="0.14" textLength="6.20" lengthAdjust="spacingAndGlyphs">-</text>
<text x="357.50" y="226.56" transform="rotate(0.03 357.50 226.56)" font-size="19.0" stroke="#000" stroke-width="0.14" textLength="38.20" lengthAdjust="spacingAndGlyphs">num</text>
<text x="269.20" y="247.12" transform="rotate(0.03 269.20 247.12)" font-size="19.0" stroke="#000" stroke-width="0.14" textLength="24.20" lengthAdjust="spacingAndGlyphs">LL:</text>
<text x="299.90" y="247.12" transform="rotate(0.03 299.90 247.12)" font-size="19.0" stroke="#000" stroke-width="0.14" textLength="39.10" lengthAdjust="spacingAndGlyphs">num</text>
<path d="M349.70,234.02L349.70,242.42 M346.06,236.12L353.34,240.32 M353.34,236.12L346.06,240.32" stroke="#000" stroke-width="1.3" fill="none"/>
<text x="361.20" y="247.12" transform="rotate(0.03 361.20 247.12)" font-size="19.0" stroke="#000" stroke-width="0.14" textLength="20.80" lengthAdjust="spacingAndGlyphs">10</text><rect x="363.07" y="245.77" width="7.01" height="1.35" fill="#000"/>
<text x="382.70" y="240.42" transform="rotate(0.03 382.70 240.42)" font-size="15.2" stroke="#000" stroke-width="0.14" textLength="13.80" lengthAdjust="spacingAndGlyphs">-3</text>
<text x="255.70" y="267.68" transform="rotate(0.03 255.70 267.68)" font-size="19.0" stroke="#000" stroke-width="0.14" textLength="37.70" lengthAdjust="spacingAndGlyphs">NLL:</text>
<text x="299.90" y="267.68" transform="rotate(0.03 299.90 267.68)" font-size="19.0" stroke="#000" stroke-width="0.14" textLength="39.10" lengthAdjust="spacingAndGlyphs">num</text>
<path d="M349.70,254.58L349.70,262.98 M346.06,256.68L353.34,260.88 M353.34,256.68L346.06,260.88" stroke="#000" stroke-width="1.3" fill="none"/>
<text x="361.20" y="267.68" transform="rotate(0.03 361.20 267.68)" font-size="19.0" stroke="#000" stroke-width="0.14" textLength="20.80" lengthAdjust="spacingAndGlyphs">10</text><rect x="363.07" y="266.33" width="7.01" height="1.35" fill="#000"/>
<text x="382.70" y="260.98" transform="rotate(0.03 382.70 260.98)" font-size="15.2" stroke="#000" stroke-width="0.14" textLength="13.80" lengthAdjust="spacingAndGlyphs">-3</text>
<text x="198.00" y="288.24" transform="rotate(0.03 198.00 288.24)" font-size="19.0" stroke="#000" stroke-width="0.14" textLength="24.20" lengthAdjust="spacingAndGlyphs">LL:</text>
<text x="228.90" y="288.24" transform="rotate(0.03 228.90 288.24)" font-size="19.0" stroke="#000" stroke-width="0.14" textLength="73.50" lengthAdjust="spacingAndGlyphs">(an/num</text>
<text x="310.50" y="288.24" transform="rotate(0.03 310.50 288.24)" font-size="19.0" stroke="#000" stroke-width="0.14" textLength="6.80" lengthAdjust="spacingAndGlyphs">-</text>
<text x="322.90" y="288.24" transform="rotate(0.03 322.90 288.24)" font-size="19.0" stroke="#000" stroke-width="0.14" textLength="15.40" lengthAdjust="spacingAndGlyphs">1)</text><rect x="324.63" y="286.89" width="6.49" height="1.35" fill="#000"/>
<path d="M349.90,275.14L349.90,283.54 M346.26,277.24L353.54,281.44 M353.54,277.24L346.26,281.44" stroke="#000" stroke-width="1.3" fill="none"/>
<text x="361.50" y="288.24" transform="rotate(0.03 361.50 288.24)" font-size="19.0" stroke="#000" stroke-width="0.14" textLength="20.70" lengthAdjust="spacingAndGlyphs">10</text><rect x="363.36" y="286.89" width="6.98" height="1.35" fill="#000"/>
<text x="382.80" y="281.54" transform="rotate(0.03 382.80 281.54)" font-size="15.2" stroke="#000" stroke-width="0.14" textLength="13.70" lengthAdjust="spacingAndGlyphs">-2</text>
</svg>
</body></html>
